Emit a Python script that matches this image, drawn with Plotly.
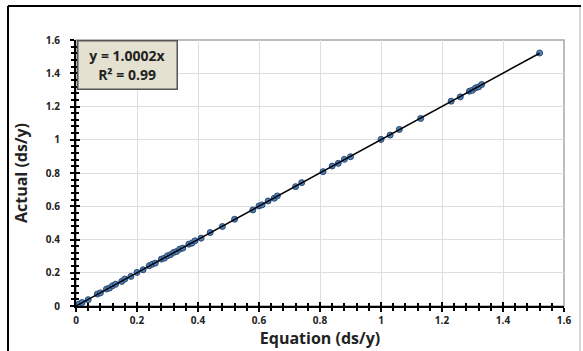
import plotly.graph_objects as go

equation = [0.0, 0.005, 0.01, 0.02, 0.04, 0.07, 0.08, 0.10, 0.11, 0.12, 0.13, 0.15, 0.16, 0.18,
            0.20, 0.22, 0.24, 0.25, 0.26, 0.28, 0.29, 0.30, 0.31, 0.32, 0.33, 0.34, 0.35, 0.37,
            0.38, 0.39, 0.41, 0.44, 0.48, 0.52, 0.58, 0.60, 0.61, 0.63, 0.65, 0.66, 0.72, 0.74,
            0.81, 0.84, 0.86, 0.88, 0.90, 1.00, 1.03, 1.06, 1.13, 1.23, 1.26, 1.29, 1.30, 1.31,
            1.32, 1.33, 1.52]
actual = [0.0, 0.006, 0.012, 0.021, 0.038, 0.072, 0.079, 0.102, 0.108, 0.122, 0.131, 0.148, 0.162, 0.178,
          0.202, 0.218, 0.242, 0.251, 0.258, 0.282, 0.288, 0.302, 0.309, 0.322, 0.328, 0.342, 0.348, 0.372,
          0.378, 0.392, 0.408, 0.442, 0.478, 0.522, 0.578, 0.602, 0.608, 0.632, 0.648, 0.662, 0.718, 0.742,
          0.808, 0.842, 0.858, 0.882, 0.898, 1.002, 1.028, 1.062, 1.128, 1.232, 1.258, 1.292, 1.298, 1.312,
          1.318, 1.332, 1.522]
slope = 1.0002
r2 = 0.99
x_ticks = [0, 0.2, 0.4, 0.6, 0.8, 1, 1.2, 1.4, 1.6]
x_tick_labels = ["0", "0.2", "0.4", "0.6", "0.8", "1", "1.2", "1.4", "1.6"]
y_ticks = x_ticks
y_tick_labels = x_tick_labels

line_x = [0, max(equation)]
line_y = [slope * v for v in line_x]

fig = go.Figure()
fig.add_trace(go.Scatter(x=equation, y=actual, mode="markers",
                         marker=dict(size=6, color="#4f81bd", line=dict(color="#2a4a73", width=1)),
                         showlegend=False))
fig.add_trace(go.Scatter(x=line_x, y=line_y, mode="lines",
                         line=dict(color="black", width=1.5), showlegend=False))

tickfont = dict(family="Open Sans", size=10, color="#222")
fig.update_layout(
    width=583, height=351,
    margin=dict(l=76, r=19, t=40, b=45),
    paper_bgcolor="white", plot_bgcolor="white",
    font=dict(family="Open Sans", color="#222"),
    xaxis=dict(range=[0, 1.6], tickvals=x_ticks, ticktext=["<b>%s</b>" % t for t in x_tick_labels],
               tickfont=tickfont, showgrid=True, gridcolor="#dedede", gridwidth=1,
               showline=True, linecolor="black", linewidth=2, zeroline=False,
               ticks="outside", ticklen=4, tickwidth=1.5, tickcolor="black",
               minor=dict(dtick=0.04, ticks="outside", ticklen=3, tickwidth=1.5, tickcolor="black", showgrid=False),
               title=dict(text="<b>Equation (ds/y)</b>", font=dict(size=16, family="Open Sans"), standoff=0)),
    yaxis=dict(range=[0, 1.6], tickvals=y_ticks, ticktext=["<b>%s</b>" % t for t in y_tick_labels],
               tickfont=tickfont, showgrid=True, gridcolor="#dedede", gridwidth=1,
               showline=True, linecolor="black", linewidth=2, zeroline=False,
               ticks="outside", ticklen=4, tickwidth=1.5, tickcolor="black", ticklabelstandoff=8,
               minor=dict(dtick=0.04, ticks="outside", ticklen=3, tickwidth=1.5, tickcolor="black", showgrid=False),
               title=dict(text="<b>Actual (ds/y)</b>", font=dict(size=16, family="Open Sans"), standoff=14)),
    xaxis2=dict(range=[0, 1.6], overlaying="x", anchor="y", side="bottom", showticklabels=False,
                showgrid=False, zeroline=False, showline=False, tickvals=x_ticks,
                ticks="inside", ticklen=4, tickwidth=1.5, tickcolor="black",
                minor=dict(dtick=0.04, ticks="inside", ticklen=3, tickwidth=1.5, tickcolor="black")),
    yaxis2=dict(range=[0, 1.6], overlaying="y", anchor="x", side="left", showticklabels=False,
                showgrid=False, zeroline=False, showline=False, tickvals=y_ticks,
                ticks="inside", ticklen=4, tickwidth=1.5, tickcolor="black",
                minor=dict(dtick=0.04, ticks="inside", ticklen=3, tickwidth=1.5, tickcolor="black")),
)
# invisible trace to activate secondary axes
fig.add_trace(go.Scatter(x=[0], y=[0], xaxis="x2", yaxis="y2", mode="markers",
                         marker=dict(opacity=0), showlegend=False, hoverinfo="skip"))

# plot area border (top/right gray)
fig.add_shape(type="rect", xref="paper", yref="paper", x0=0, y0=0, x1=1, y1=1,
              line=dict(color="#a6a6a6", width=1.5), layer="below")
# outer chart frame: top and left black, right light gray
W, H = 488, 266
def px(xp):
    return (xp - 76) / W
def py(yp):
    return (306 - yp) / H
fig.add_shape(type="line", xref="paper", yref="paper", x0=px(8), x1=px(581), y0=py(6), y1=py(6),
              line=dict(color="black", width=2))
fig.add_shape(type="line", xref="paper", yref="paper", x0=px(8), x1=px(8), y0=py(6), y1=py(352),
              line=dict(color="black", width=2))
fig.add_shape(type="line", xref="paper", yref="paper", x0=px(580), x1=px(580), y0=py(7), y1=py(352),
              line=dict(color="#c8c8c8", width=1.5))

fig.add_annotation(xref="paper", yref="paper", x=0.002, y=1.0, xanchor="left", yanchor="top",
                   text="<b>y = 1.0002x</b><br><b>R² = 0.99</b>", showarrow=False,
                   font=dict(family="Open Sans", size=14, color="#222"),
                   bgcolor="#e4e1d0", bordercolor="#555", borderwidth=1.5,
                   width=96, height=45, align="center")

fig.write_html("out.html")
